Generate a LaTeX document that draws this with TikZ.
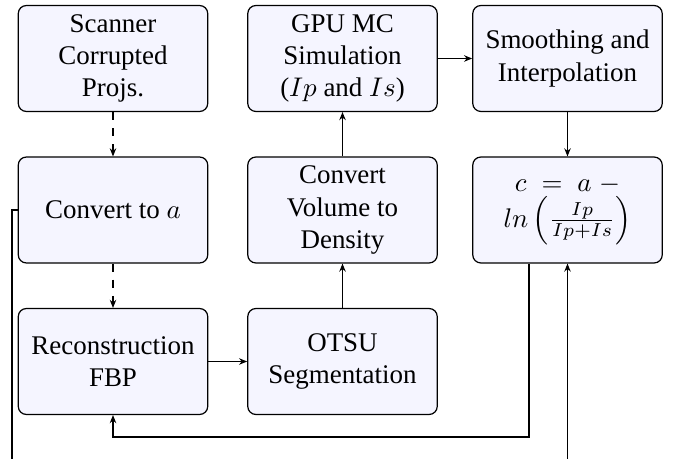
\documentclass[tikz,border=0pt]{standalone}
\usepackage{fontspec}
\setmainfont{Liberation Serif}
\usetikzlibrary{arrows.meta,calc}
\definecolor{boxfill}{RGB}{245,245,255}
\tikzset{
  blk/.style={draw=black, line width=0.45pt, fill=boxfill, rounded corners=3pt,
    minimum width=70.3pt, minimum height=39.3pt, align=center, inner sep=1pt},
  arr/.style={line width=0.45pt, -{Stealth[length=3pt,width=2.4pt]}},
  darr/.style={arr, dashed}
}
\begin{document}
\begin{tikzpicture}[x=0.371pt,y=-0.371pt]
\useasboundingbox (0,0) rectangle (675,459);
\node[blk] (scan) at (113,58.5) {Scanner\\Corrupted\\Projs.};
\node[blk] (gpu) at (342.5,58.5) {GPU MC\\Simulation\\($Ip$ and $Is$)};
\node[blk] (smooth) at (567.5,58.5) {Smoothing and\\Interpolation};
\node[blk] (conva) at (113,210) {Convert to $a$};
\node[blk] (convv) at (342.5,210) {Convert\\Volume to\\Density};
\node[blk] (cbox) at (567.5,210) {$c\;=\;a\;-$\\$ln\left(\frac{Ip}{Ip+Is}\right)$};
\node[blk] (recon) at (113,361.5) {Reconstruction\\FBP};
\node[blk] (otsu) at (342.5,361.5) {OTSU\\Segmentation};
\coordinate (loopA) at (0,437);
\coordinate (loopB) at (12,475);
\draw[darr] (scan) -- (conva);
\draw[darr] (conva) -- (recon);
\draw[arr] (recon) -- (otsu);
\draw[arr] (otsu) -- (convv);
\draw[arr] (convv) -- (gpu);
\draw[arr] (gpu) -- (smooth);
\draw[arr] (smooth) -- (cbox);
\draw[arr] ([xshift=-14.3pt]cbox.south) -- ([xshift=-14.3pt]cbox.south |- loopA) -| (recon.south);
\draw[arr] (conva.west) -| (loopB) -| (cbox.south);
\end{tikzpicture}
\end{document}
